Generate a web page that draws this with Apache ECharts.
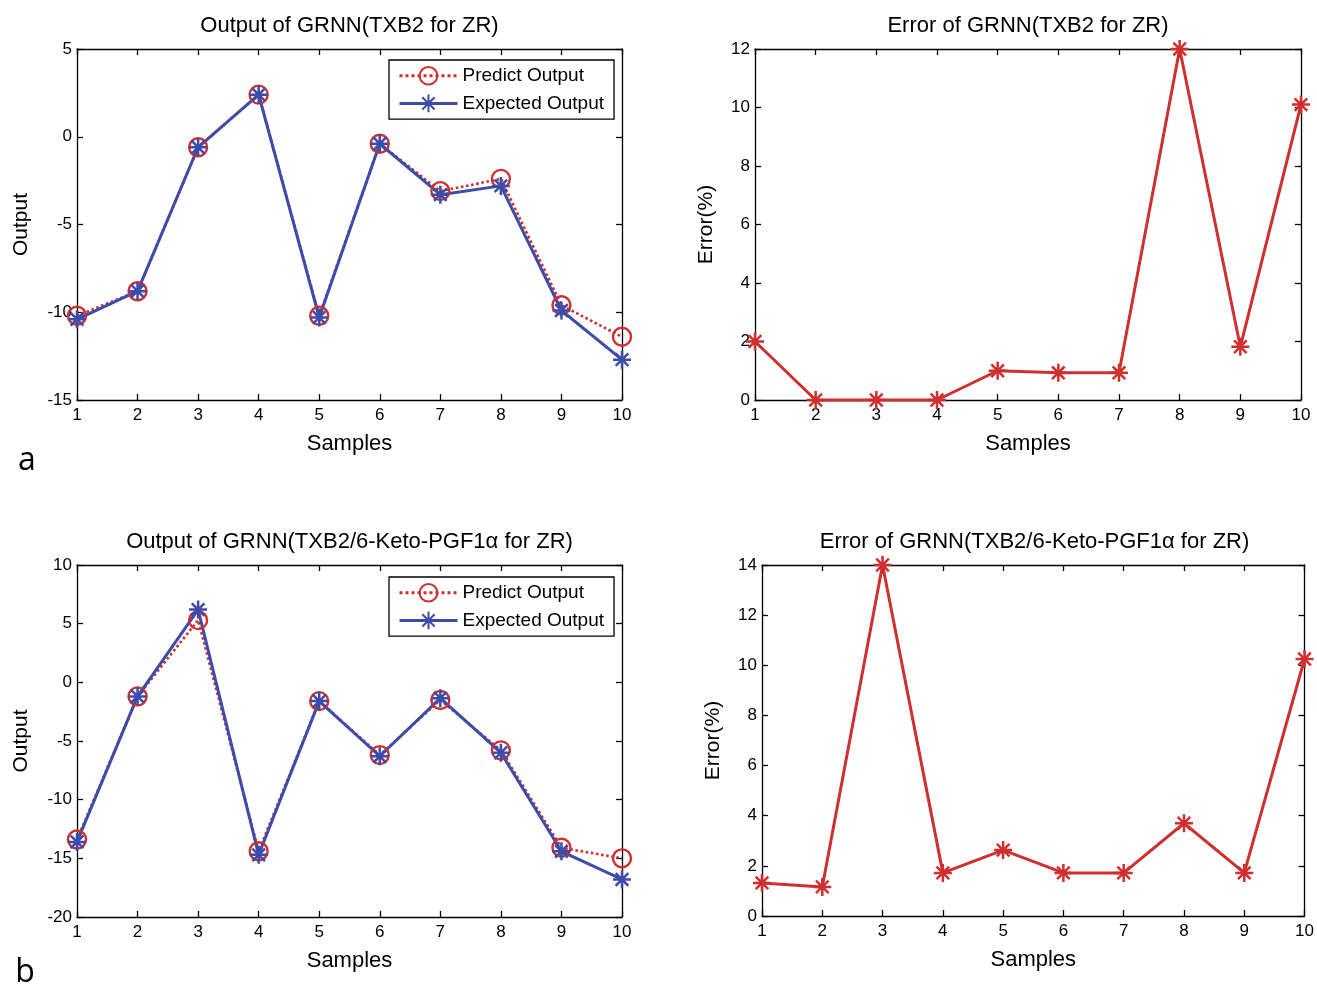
<!DOCTYPE html>
<html>
<head>
<meta charset="utf-8">
<script src="https://cdn.jsdelivr.net/npm/echarts@6.0.0/dist/echarts.min.js"></script>
<style>
  html, body { margin: 0; padding: 0; background: #fff; }
  #chart { width: 1317px; height: 984px; }
</style>
</head>
<body>
<div id="chart"></div>
<script>
// data
const samples = [1, 2, 3, 4, 5, 6, 7, 8, 9, 10]

const predictTXB2 = [-10.2, -8.8, -0.6, 2.4, -10.2, -0.4, -3.1, -2.4, -9.6, -11.4]
const expectedTXB2 = [-10.4, -8.8, -0.6, 2.4, -10.3, -0.4, -3.3, -2.8, -9.9, -12.7]
const errorTXB2 = [2.0, 0, 0, 0, 1.0, 0.93, 0.93, 12.0, 1.82, 10.1]

const predictRatio = [-13.4, -1.2, 5.3, -14.4, -1.6, -6.2, -1.5, -5.8, -14.1, -15.0]
const expectedRatio = [-13.6, -1.2, 6.2, -14.7, -1.6, -6.3, -1.35, -6.0, -14.4, -16.8]
const errorRatio = [1.32, 1.16, 14.0, 1.72, 2.63, 1.72, 1.72, 3.7, 1.72, 10.25]

const titles = [
  'Output of GRNN(TXB2 for ZR)',
  'Error of GRNN(TXB2 for ZR)',
  'Output of GRNN(TXB2/6-Keto-PGF1\u03b1 for ZR)',
  'Error of GRNN(TXB2/6-Keto-PGF1\u03b1 for ZR)'
]

const RED = '#cf2f2f'
const BLUE = '#3d4ca8'
const FONT = "'Liberation Sans', Arial, sans-serif"
const STAR = 'path://M5 0L5 10M0 5L10 5M1.5 1.5L8.5 8.5M8.5 1.5L1.5 8.5'

const chart = echarts.init(document.getElementById('chart'))

const grids = []
const xAxes = []
const yAxes = []
const series = []
const graphics = []

const lineStyle = { color: '#000', width: 1.3 }
const labelStyle = { color: '#000', fontSize: 17, fontFamily: FONT }

// one matlab-like boxed panel: ticks on all four sides
function addPanel(idx, box, yMin, yMax, yStep, yName, yNameGap) {
  grids.push({ left: box[0], top: box[1], width: box[2], height: box[3] })
  const xBase = { gridIndex: idx, type: 'value', min: 1, max: 10, interval: 1,
    axisLine: { onZero: false, lineStyle: lineStyle },
    axisTick: { inside: true, length: 6, lineStyle: lineStyle },
    splitLine: { show: false } }
  xAxes.push(Object.assign({}, xBase, {
    position: 'bottom', name: 'Samples', nameLocation: 'middle', nameGap: 33,
    nameTextStyle: { color: '#000', fontSize: 22, fontFamily: FONT },
    axisLabel: Object.assign({ margin: 7 }, labelStyle)
  }))
  xAxes.push(Object.assign({}, xBase, { position: 'top', axisLabel: { show: false } }))
  const yBase = { gridIndex: idx, type: 'value', min: yMin, max: yMax, interval: yStep,
    axisLine: { onZero: false, lineStyle: lineStyle },
    axisTick: { inside: true, length: 6, lineStyle: lineStyle },
    splitLine: { show: false } }
  yAxes.push(Object.assign({}, yBase, {
    position: 'left', name: yName, nameLocation: 'middle', nameGap: yNameGap,
    nameTextStyle: { color: '#000', fontSize: 21, fontFamily: FONT },
    axisLabel: Object.assign({ margin: 5 }, labelStyle)
  }))
  yAxes.push(Object.assign({}, yBase, { position: 'right', axisLabel: { show: false } }))
  graphics.push({
    type: 'text', x: box[0] + box[2] / 2, y: box[1] - 23,
    style: { text: titles[idx], fill: '#000', font: '22px ' + FONT, textAlign: 'center', textVerticalAlign: 'middle' }
  })
}

function pairs(values) {
  return samples.map((s, i) => [s, values[i]])
}

function predictSeries(idx, values) {
  return {
    name: 'Predict Output', type: 'line', xAxisIndex: idx * 2, yAxisIndex: idx * 2,
    data: pairs(values), symbol: 'circle', symbolSize: 18, clip: false,
    lineStyle: { color: RED, width: 2.6, type: 'dotted' },
    itemStyle: { color: 'rgba(0,0,0,0)', borderColor: RED, borderWidth: 2.4 }
  }
}

function starSeries(idx, name, values, color) {
  return {
    name: name, type: 'line', xAxisIndex: idx * 2, yAxisIndex: idx * 2,
    data: pairs(values), symbol: STAR, symbolSize: 18, clip: false,
    lineStyle: { color: color, width: 3 },
    itemStyle: { color: color, borderColor: color, borderWidth: 2.5 }
  }
}

addPanel(0, [77, 49, 545, 351], -15, 5, 5, 'Output', 45)
addPanel(1, [755, 49, 546, 351], 0, 12, 2, 'Error(%)', 38)
addPanel(2, [77, 565, 545, 352], -20, 10, 5, 'Output', 45)
addPanel(3, [762, 565, 545, 351], 0, 14, 2, 'Error(%)', 38)

series.push(predictSeries(0, predictTXB2))
series.push(starSeries(0, 'Expected Output', expectedTXB2, BLUE))
series.push(starSeries(1, 'Error', errorTXB2, RED))
series.push(predictSeries(2, predictRatio))
series.push(starSeries(2, 'Expected Output', expectedRatio, BLUE))
series.push(starSeries(3, 'Error', errorRatio, RED))

// panel letters
graphics.push({ type: 'text', x: 27, y: 461,
  style: { text: 'a', fill: '#000', font: '32px "Open Sans", sans-serif', textAlign: 'center', textVerticalAlign: 'middle' } })
graphics.push({ type: 'text', x: 25, y: 973,
  style: { text: 'b', fill: '#000', font: '32px "Open Sans", sans-serif', textAlign: 'center', textVerticalAlign: 'middle' } })

function legendAt(top) {
  return {
    data: ['Predict Output', 'Expected Output'], orient: 'vertical',
    left: 389, top: top, padding: [6, 10, 6, 9], itemWidth: 58, itemHeight: 22, itemGap: 8,
    borderColor: '#000', borderWidth: 1.3, backgroundColor: '#fff',
    lineStyle: { width: 3 },
    textStyle: { color: '#000', fontSize: 19, fontFamily: FONT },
    selectedMode: false
  }
}

chart.setOption({
  animation: false,
  backgroundColor: '#fff',
  grid: grids,
  xAxis: xAxes,
  yAxis: yAxes,
  legend: [legendAt(60), legendAt(577)],
  series: series,
  graphic: graphics
})
</script>
</body>
</html>
